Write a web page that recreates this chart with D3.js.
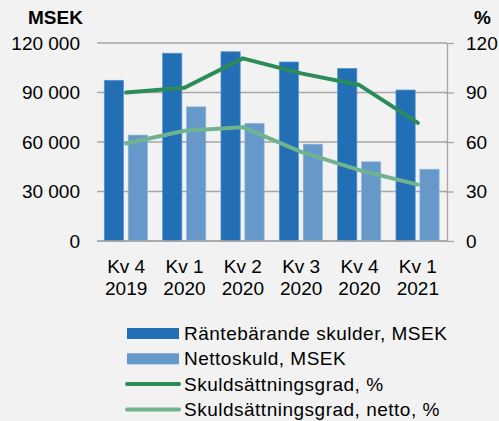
<!DOCTYPE html>
<html lang="sv">
<head>
<meta charset="utf-8">
<title>Skulder</title>
<script src="https://d3js.org/d3.v7.min.js"></script>
<style>
  html, body { margin: 0; padding: 0; background: #f2f2f2; }
  text { font-family: "Liberation Sans", Arial, sans-serif; fill: #000; }
</style>
</head>
<body>
<script>
// data
var quarters = ["Kv 4|2019", "Kv 1|2020", "Kv 2|2020", "Kv 3|2020", "Kv 4|2020", "Kv 1|2021"];
var rantebarande = [97400, 113800, 114700, 108500, 104600, 91500];
var nettoskuld = [64200, 81300, 71300, 58700, 48000, 43500];
var skuldgrad = [90, 92.9, 110.7, 101.6, 94.5, 71.6];
var skuldgradNetto = [59.1, 66.8, 69, 54, 42.9, 34.2];
var leftTicks = [0, 30000, 60000, 90000, 120000];
var rightTicks = [0, 30, 60, 90, 120];
var legendNames = ["Räntebärande skulder, MSEK", "Nettoskuld, MSEK", "Skuldsättningsgrad, %", "Skuldsättningsgrad, netto, %"];

var colDark = "#226fb5", colLight = "#6699c9", colGreen = "#2b8c5a", colGreenL = "#6fb38f";
var fs = 19;

var w = 499, h = 421;
var margin = {top: 43, right: 52, bottom: 180, left: 97};
var innerW = w - margin.left - margin.right;
var innerH = h - margin.top - margin.bottom;

var svg = d3.select("body").append("svg")
    .attr("width", w)
    .attr("height", h);

svg.append("rect").attr("width", w).attr("height", h).attr("fill", "#f2f2f2");

var g = svg.append("g").attr("transform", `translate(${margin.left},${margin.top})`);

var x = d3.scaleBand().domain(quarters).range([0, innerW]);
var yL = d3.scaleLinear().domain([0, 120000]).range([innerH, 0]);
var yR = d3.scaleLinear().domain([0, 120]).range([innerH, 0]);

var fmt = function(v) { return d3.format(",")(v).replace(/,/g, " "); };

// gridlines
g.selectAll(".grid").data(leftTicks).enter().append("line")
    .attr("x1", 0).attr("x2", innerW)
    .attr("y1", d => yL(d)).attr("y2", d => yL(d))
    .attr("stroke", "#a6a6a6").attr("stroke-width", 1.3);

// left axis labels
var axL = g.append("g").call(d3.axisLeft(yL).tickValues(leftTicks).tickFormat(fmt).tickSize(0).tickPadding(17));
axL.select(".domain").remove();
axL.selectAll("text").attr("font-size", fs).attr("font-family", null).attr("fill", "#000");

// right axis
var axR = g.append("g").attr("transform", `translate(${innerW},0)`)
    .call(d3.axisRight(yR).tickValues(rightTicks).tickSize(7).tickSizeOuter(0).tickPadding(12));
axR.select(".domain").attr("stroke", "#a6a6a6").attr("stroke-width", 1.3);
axR.selectAll(".tick line").attr("stroke", "#a6a6a6").attr("stroke-width", 1.3).attr("x1", -2);
axR.selectAll("text").attr("font-size", fs).attr("font-family", null).attr("fill", "#000");

// bars
var bw = x.bandwidth() * 0.33, off = x.bandwidth() * 0.125, gap = x.bandwidth() * 0.08;
g.selectAll(".b1").data(rantebarande).enter().append("rect")
    .attr("x", (d, i) => x(quarters[i]) + off)
    .attr("y", d => yL(d)).attr("width", bw).attr("height", d => innerH - yL(d))
    .attr("fill", colDark).attr("stroke", "#5c95cc").attr("stroke-width", 0.7);
g.selectAll(".b2").data(nettoskuld).enter().append("rect")
    .attr("x", (d, i) => x(quarters[i]) + off + bw + gap)
    .attr("y", d => yL(d)).attr("width", bw).attr("height", d => innerH - yL(d))
    .attr("fill", colLight).attr("stroke", "#8fb5dc").attr("stroke-width", 0.7);

// baseline
g.append("line").attr("x1", 0).attr("x2", innerW).attr("y1", innerH).attr("y2", innerH)
    .attr("stroke", "#a6a6a6").attr("stroke-width", 1.3);

// lines
var line = d3.line()
    .x((d, i) => x(quarters[i]) + x.bandwidth() / 2)
    .y(d => yR(d));
g.append("path").datum(skuldgradNetto).attr("d", line)
    .attr("fill", "none").attr("stroke", colGreenL).attr("stroke-width", 4)
    .attr("stroke-linejoin", "round").attr("stroke-linecap", "round");
g.append("path").datum(skuldgrad).attr("d", line)
    .attr("fill", "none").attr("stroke", colGreen).attr("stroke-width", 4)
    .attr("stroke-linejoin", "round").attr("stroke-linecap", "round");

// x labels
var xl = g.selectAll(".xl").data(quarters).enter().append("text")
    .attr("text-anchor", "middle").attr("font-size", fs);
xl.append("tspan").attr("x", d => x(d) + x.bandwidth() / 2).attr("y", innerH + 32).text(d => d.split("|")[0]);
xl.append("tspan").attr("x", d => x(d) + x.bandwidth() / 2).attr("y", innerH + 54).text(d => d.split("|")[1]);

// unit titles
svg.append("text").attr("x", 28).attr("y", 24).attr("font-size", fs).attr("font-weight", "bold").text("MSEK");
svg.append("text").attr("x", 474).attr("y", 24).attr("font-size", fs).attr("font-weight", "bold").text("%");

// legend
var leg = svg.append("g").attr("transform", "translate(127,333.5)");
var rows = leg.selectAll("g").data(legendNames).enter().append("g")
    .attr("transform", (d, i) => `translate(0,${i * 25.3})`);
rows.each(function(d, i) {
  var r = d3.select(this);
  if (i < 2) {
    r.append("rect").attr("x", 0).attr("y", -5.5).attr("width", 52).attr("height", 11)
      .attr("fill", i === 0 ? colDark : colLight);
  } else {
    r.append("line").attr("x1", 0).attr("x2", 52).attr("y1", 0).attr("y2", 0)
      .attr("stroke", i === 2 ? colGreen : colGreenL).attr("stroke-width", 4)
      .attr("stroke-linecap", "round");
  }
  r.append("text").attr("x", 57).attr("y", 6.5).attr("font-size", fs)
    .attr("letter-spacing", 0.5).text(d);
});
</script>
</body>
</html>
